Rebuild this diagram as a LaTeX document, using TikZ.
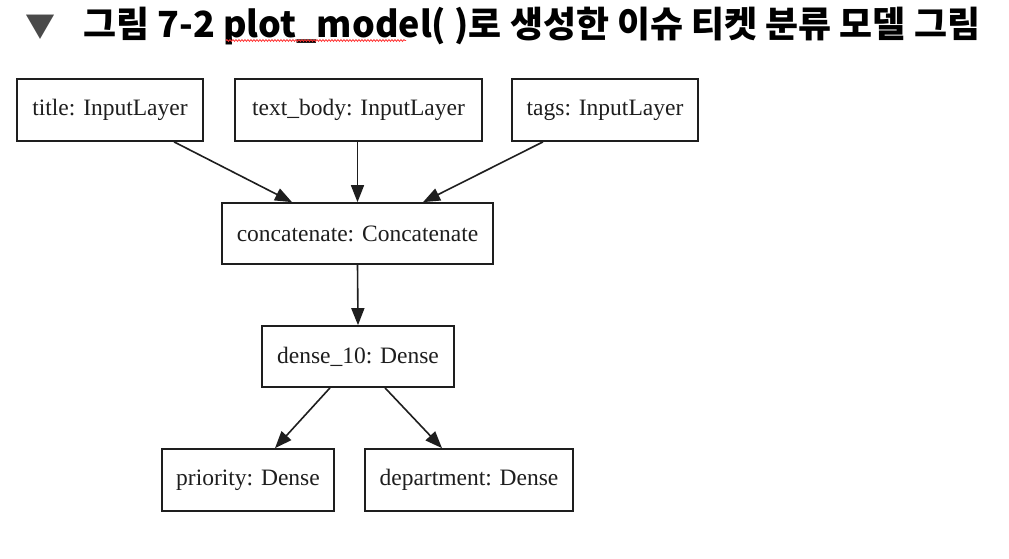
\documentclass[tikz,border=0pt]{standalone}
\usepackage{fontspec}
\setmainfont{Liberation Serif}
\newfontfamily\krfont{Noto Sans CJK KR}
\usetikzlibrary{arrows.meta,decorations.pathmorphing}
\definecolor{titlegray}{HTML}{4A4A4A}
\definecolor{ink}{HTML}{1E1E1E}
\newsavebox\titlebox
\sbox\titlebox{\krfont\bfseries\fontsize{36pt}{40pt}\selectfont 그림 7-2 plot\_model( )로 생성한 이슈 티켓 분류 모델 그림}
\tikzset{
  layer/.style={draw=ink, line width=1.7pt, rectangle, inner sep=0pt, minimum height=62pt,
    font=\fontsize{23.5pt}{27pt}\selectfont, text=ink},
  arr/.style={draw=ink, line width=1.6pt, -{Triangle[length=17pt,width=13pt]}}
}
\begin{document}
\begin{tikzpicture}[x=1pt,y=-1pt]
\useasboundingbox (0,0) rectangle (1009,559);
\fill[white] (0,0) rectangle (1009,559);
% title
\node[anchor=base, inner sep=0pt, text=titlegray, font=\krfont\fontsize{30pt}{32pt}\selectfont] (tri) at (40.5,38) {▼};
\pgfmathsetmacro\tsx{897/\the\wd\titlebox}
\node[anchor=base west, inner sep=0pt, text=titlegray] (head) at (83,38) {\scalebox{\tsx}[1]{\usebox\titlebox}};
\coordinate (ws) at (226,40.5);
\coordinate (we) at (406,40.5);
\draw[red!80!white, line width=0.8pt, decorate, decoration={snake, amplitude=0.9pt, segment length=3pt}] (ws) -- (we);
% nodes
\node[layer, minimum width=186pt] (title) at (110,110) {title: InputLayer};
\node[layer, minimum width=247pt] (body) at (358.5,110) {text\_body: InputLayer};
\node[layer, minimum width=186pt] (tags) at (605,110) {tags: InputLayer};
\node[layer, minimum width=271pt, minimum height=61pt] (concat) at (357.5,233.5) {concatenate: Concatenate};
\node[layer, minimum width=192pt, minimum height=61pt] (dense) at (358,356.5) {dense\_10: Dense};
\node[layer, minimum width=172pt] (prio) at (248,480) {priority: Dense};
\node[layer, minimum width=208pt] (dept) at (469,480) {department: Dense};
% edges
\draw[arr] ([xshift=64pt]title.south) -- ([xshift=-65.5pt]concat.north);
\draw[arr] (body.south -| concat.north) -- (concat.north);
\draw[arr] ([xshift=-62pt]tags.south) -- ([xshift=65.5pt]concat.north);
\draw[arr] (concat.south) -- (dense.north);
\draw[arr] ([xshift=-28pt]dense.south) -- ([xshift=27pt]prio.north);
\draw[arr] ([xshift=27pt]dense.south) -- ([xshift=-27pt]dept.north);
\end{tikzpicture}
\end{document}
